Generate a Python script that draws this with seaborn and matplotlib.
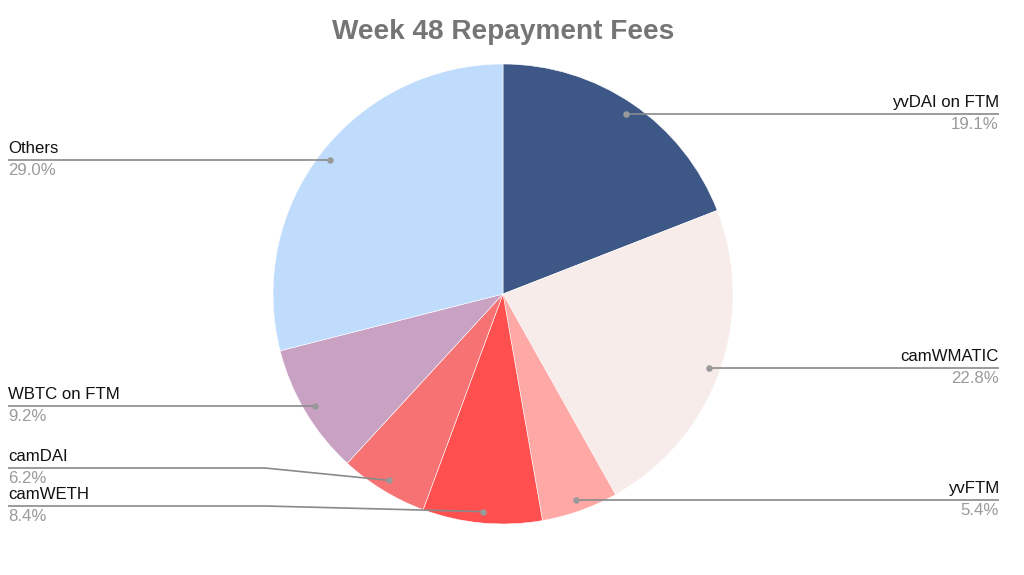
import numpy as np
import matplotlib
matplotlib.use("Agg")
import matplotlib.pyplot as plt
import seaborn as sns

# --- data ---
labels = ["yvDAI on FTM", "camWMATIC", "yvFTM", "camWETH", "camDAI", "WBTC on FTM", "Others"]
shares = [19.1, 22.8, 5.4, 8.4, 6.2, 9.2, 29.0]
colors = ["#3d5787", "#f7ece9", "#ffa9a7", "#ff4f4f", "#f77272", "#c9a1c2", "#bfdcfd"]

TITLE = "Week 48 Repayment Fees"

# --- layout (pixel space, y measured from top) ---
W, H = 1024, 575
CX, CY, R = 503, 294, 230
LEFT_X, RIGHT_X = 8, 999
BEND_X = 265
# a few labels are pushed off their dot's height to avoid overlap
label_y_override = {"camDAI": 468, "camWETH": 506}

sns.set_style("white")
plt.rcParams["font.family"] = ["Liberation Sans", "DejaVu Sans"]

fig = plt.figure(figsize=(W / 100, H / 100), dpi=100)
ax = fig.add_axes([0, 0, 1, 1])
ax.set_xlim(0, W)
ax.set_ylim(0, H)
ax.set_aspect("equal")
ax.axis("off")

wedges, _ = ax.pie(shares, colors=colors, startangle=90, counterclock=False,
                   center=(CX, H - CY), radius=R,
                   wedgeprops=dict(linewidth=0.4, edgecolor="white"))
ax.set_xlim(0, W)
ax.set_ylim(0, H)

line_col = "#8a8a8a"
for w, name, pct in zip(wedges, labels, shares):
    theta = np.deg2rad((w.theta1 + w.theta2) / 2)
    dx = CX + 0.95 * R * np.cos(theta)
    dy = (H - CY) + 0.95 * R * np.sin(theta)
    right = np.cos(theta) > 0
    ly = H - label_y_override[name] if name in label_y_override else dy
    tx = RIGHT_X if right else LEFT_X
    if name in label_y_override:
        xs = [tx, BEND_X, dx]
        ys = [ly, ly, dy]
    else:
        xs = [tx, dx]
        ys = [ly, dy]
    ax.plot(xs, ys, color=line_col, lw=1.2, solid_capstyle="butt", zorder=3)
    ax.scatter([dx], [dy], s=22, color="#999999", zorder=4, linewidths=0)
    ha = "right" if right else "left"
    ax.text(tx, ly + 4, name, ha=ha, va="bottom", fontsize=12.1, color="#111111")
    ax.text(tx, ly - 3, f"{pct:.1f}%", ha=ha, va="top", fontsize=12.1, color="#9a9a9a")

ax.text(503, H - 32, TITLE, ha="center", va="center", fontsize=20.2,
        fontweight="bold", color="#757575")

fig.savefig("out.png", dpi=100)
